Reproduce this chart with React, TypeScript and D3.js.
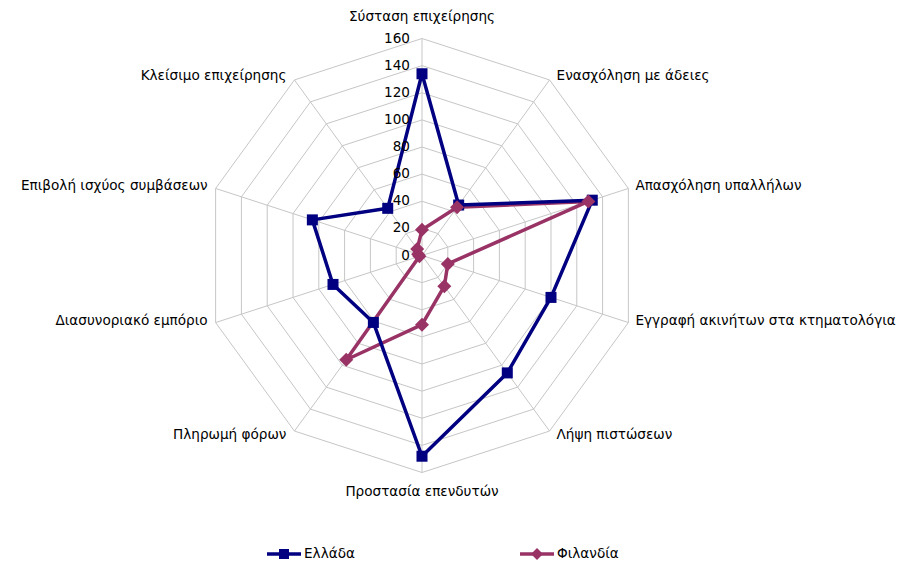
import React from "react";
import * as d3 from "d3";

const categories = [
  "Σύσταση επιχείρησης",
  "Ενασχόληση με άδειες",
  "Απασχόληση υπαλλήλων",
  "Εγγραφή ακινήτων στα κτηματολόγια",
  "Λήψη πιστώσεων",
  "Προστασία επενδυτών",
  "Πληρωμή φόρων",
  "Διασυνοριακό εμπόριο",
  "Επιβολή ισχύος συμβάσεων",
  "Κλείσιμο επιχείρησης",
];
const greece = [134, 46, 132, 100, 107, 148, 61, 69, 85, 43];
const finland = [19, 44, 129, 20, 28, 51, 95, 2, 3, 6];
const ticks = [0, 20, 40, 60, 80, 100, 120, 140, 160];
const seriesNames = ["Ελλάδα", "Φιλανδία"];

const W = 902;
const H = 564;
const cx = 422;
const cy = 255.5;
const R = 217;
const FONT = "'DejaVu Sans', Verdana, sans-serif";
const FS = 13.6;
const greeceColor = "#000080";
const finlandColor = "#993366";
const gridColor = "#c6c6c6";

export default function App() {
  const r = d3.scaleLinear().domain([0, 160]).range([0, R]);
  const n = categories.length;
  const angle = (i: number) => (i * 2 * Math.PI) / n;
  const pt = (i: number, v: number): [number, number] => [
    cx + r(v) * Math.sin(angle(i)),
    cy - r(v) * Math.cos(angle(i)),
  ];
  const line = d3
    .lineRadial<number>()
    .angle((_, i) => angle(i))
    .radius((v) => r(v))
    .curve(d3.curveLinearClosed);

  const ring = (v: number) =>
    categories.map((_, i) => pt(i, v).join(",")).join(" ");

  const labelPos = (i: number) => {
    const [x, y] = pt(i, 160);
    const s = Math.sin(angle(i));
    if (Math.abs(s) < 0.01) {
      return { x, y: y + (Math.cos(angle(i)) > 0 ? -22 : 19), anchor: "middle" };
    }
    const dy = Math.cos(angle(i)) > 0.5 ? -4 : Math.cos(angle(i)) < -0.5 ? 4 : -2;
    return { x: x + (s > 0 ? 7 : -8), y: y + dy, anchor: s > 0 ? "start" : "end" };
  };

  const sq = 11;
  const dm = 7;
  const diamond = (x: number, y: number) =>
    `M${x},${y - dm}L${x + dm},${y}L${x},${y + dm}L${x - dm},${y}Z`;

  return (
    <svg width={W} height={H} style={{ position: "absolute", left: 0, top: 0, background: "#fff" }}>
      <g>
        {ticks.slice(1).map((t) => (
          <polygon key={t} points={ring(t)} fill="none" stroke={gridColor} strokeWidth={1} />
        ))}
        {categories.map((_, i) => {
          const [x, y] = pt(i, 160);
          return <line key={i} x1={cx} y1={cy} x2={x} y2={y} stroke={gridColor} strokeWidth={1} />;
        })}
      </g>
      <g fontFamily={FONT} fontSize={FS} fill="#000">
        {categories.map((c, i) => {
          const p = labelPos(i);
          return (
            <text key={c} x={p.x} y={p.y} textAnchor={p.anchor as any} dominantBaseline="middle">
              {c}
            </text>
          );
        })}
      </g>
      <g transform={`translate(${cx},${cy})`}>
        <path d={line(finland) || ""} fill="none" stroke={finlandColor} strokeWidth={3.5} strokeLinejoin="round" />
        <path d={line(greece) || ""} fill="none" stroke={greeceColor} strokeWidth={3.5} strokeLinejoin="round" />
      </g>
      <g>
        {greece.map((v, i) => {
          const [x, y] = pt(i, v);
          return <rect key={i} x={x - sq / 2} y={y - sq / 2} width={sq} height={sq} fill={greeceColor} />;
        })}
        {finland.map((v, i) => {
          const [x, y] = pt(i, v);
          return <path key={i} d={diamond(x, y)} fill={finlandColor} />;
        })}
      </g>
      <g fontFamily={FONT} fontSize={FS} fill="#000">
        {ticks.map((t) => (
          <text key={t} x={cx - 12} y={cy - r(t)} textAnchor="end" dominantBaseline="middle">
            {t}
          </text>
        ))}
      </g>
      <g fontFamily={FONT} fontSize={FS}>
        <line x1={267} x2={301} y1={554} y2={554} stroke={greeceColor} strokeWidth={3.5} />
        <rect x={284 - 5} y={554 - 5} width={10} height={10} fill={greeceColor} />
        <text x={304} y={554} dominantBaseline="middle">{seriesNames[0]}</text>
        <line x1={520} x2={554} y1={554} y2={554} stroke={finlandColor} strokeWidth={3.5} />
        <path d={`M537,548L543,554L537,560L531,554Z`} fill={finlandColor} />
        <text x={557} y={554} dominantBaseline="middle">{seriesNames[1]}</text>
      </g>
    </svg>
  );
}
